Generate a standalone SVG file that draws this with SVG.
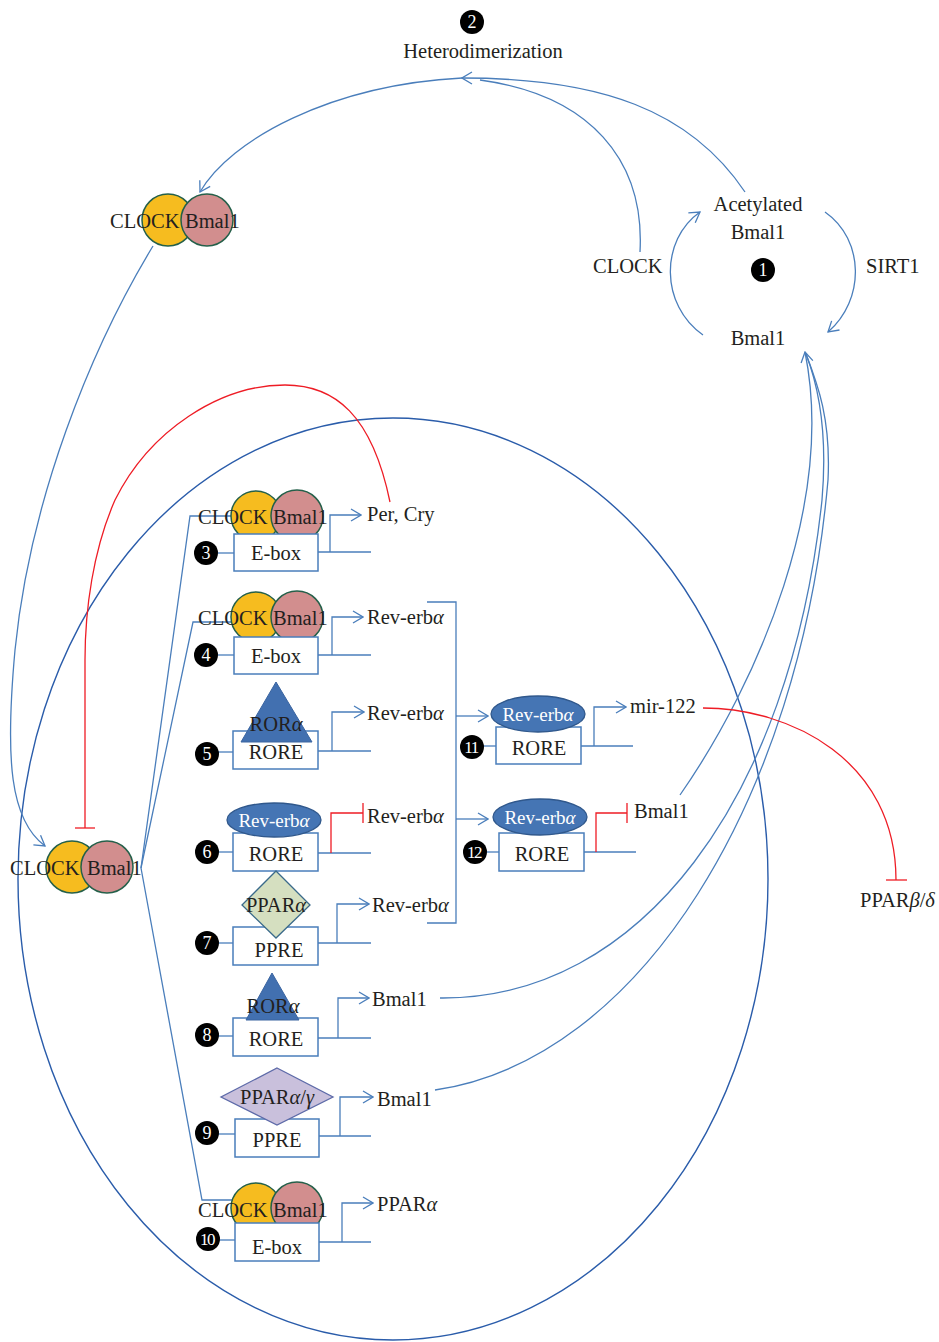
<svg xmlns="http://www.w3.org/2000/svg" width="939" height="1342" viewBox="0 0 939 1342">
<style>
.t{font-family:"Liberation Serif",serif;font-size:20.5px;fill:#231f20}
.m{text-anchor:middle}
.w{font-family:"Liberation Serif",serif;font-size:19px;fill:#ffffff;text-anchor:middle}
.n{font-family:"Liberation Serif",serif;font-size:18px;fill:#ffffff;text-anchor:middle}
.n2{font-family:"Liberation Serif",serif;font-size:17px;fill:#ffffff;text-anchor:middle;letter-spacing:-1.5px}
.b{fill:none;stroke:#4a7ebb;stroke-width:1.3}
.r{fill:none;stroke:#ee1c25;stroke-width:1.3}
.box{fill:#ffffff;stroke:#4a7ebb;stroke-width:1.5}
.y{fill:#f6bc1f;stroke:#25604a;stroke-width:1.5}
.p{fill:#d28e8e;stroke:#25604a;stroke-width:1.5}
.ov{fill:#4575b4;stroke:#30588c;stroke-width:1.3}
.tri{fill:#4270b0;stroke:#3a64a0;stroke-width:1}
.dot{fill:#000000}
</style>
<defs>
<marker id="arr" viewBox="0 0 12 14" refX="11" refY="7" markerWidth="12" markerHeight="14" markerUnits="userSpaceOnUse" orient="auto">
<path d="M1,1 L11,7 L1,13" fill="none" stroke="#4a7ebb" stroke-width="1.3"/>
</marker>
</defs>
<rect width="939" height="1342" fill="#ffffff"/>

<g id="cell">
<ellipse cx="393" cy="879" rx="375" ry="461" fill="none" stroke="#2a5caa" stroke-width="1.4"/>
</g>

<g id="connectors">
<path class="b" d="M745,192 C690,110 600,78 462,78" marker-end="url(#arr)"/>
<path class="b" d="M640,252 C645,160 590,95 480,80"/>
<path class="b" d="M462,78 C330,85 230,140 200,192" marker-end="url(#arr)"/>
<path class="b" d="M703,335 C660,305 660,240 700,212" marker-end="url(#arr)"/>
<path class="b" d="M825,212 C865,240 865,300 828,332" marker-end="url(#arr)"/>
<path class="b" d="M153,246 C90,350 30,500 15,650 C5,760 10,820 45,846" marker-end="url(#arr)"/>
<path class="r" d="M390,502 C372,415 335,385 285,385 C220,385 150,430 115,500 C93,550 85,610 85,660 L85,828"/>
<path class="r" d="M75,828 H95"/>
<path class="b" d="M141,868 L190,516 H234"/>
<path class="b" d="M141,868 L193,622 H234"/>
<path class="b" d="M141,868 L202,1200 H234"/>
<path class="b" d="M427,602 H456 V923 H427"/>
<path class="b" d="M456,716 H488" marker-end="url(#arr)"/>
<path class="b" d="M456,819 H488" marker-end="url(#arr)"/>
<path class="b" d="M680,795 C760,680 835,500 805,352" marker-end="url(#arr)"/>
<path class="b" d="M440,998 C640,1000 790,800 822,500 C828,430 818,385 806,354"/>
<path class="b" d="M435,1090 C640,1060 800,800 828,480 C831,420 818,385 806,354"/>
<path class="r" d="M703,708 C790,708 896,760 896,880"/>
<path class="r" d="M886,880 H907"/>
</g>

<g id="heterodimerization">
<circle class="dot" cx="472" cy="22" r="12"/>
<text class="n" x="472" y="28">2</text>
<text class="t m" x="483" y="58">Heterodimerization</text>
</g>

<g id="acetylation-cycle">
<text class="t m" x="758" y="211">Acetylated</text>
<text class="t m" x="758" y="239">Bmal1</text>
<circle class="dot" cx="763" cy="270" r="12"/>
<text class="n" x="763" y="276">1</text>
<text class="t m" x="758" y="345">Bmal1</text>
<text class="t" x="593" y="273">CLOCK</text>
<text class="t" x="866" y="273">SIRT1</text>
</g>

<g id="clock-bmal1-top">
<circle class="y" cx="168" cy="220" r="26"/>
<circle class="p" cx="207" cy="220" r="26"/>
<text class="t" x="110" y="228">CLOCK</text>
<text class="t" x="185" y="228">Bmal1</text>
</g>

<g id="clock-bmal1-left">
<circle class="y" cx="72" cy="867" r="26"/>
<circle class="p" cx="107" cy="867" r="26"/>
<text class="t" x="10" y="875">CLOCK</text>
<text class="t" x="87" y="875">Bmal1</text>
</g>

<g id="row3">
<circle class="y" cx="256" cy="516" r="25"/>
<circle class="p" cx="297" cy="516" r="26"/>
<text class="t" x="198" y="524">CLOCK</text>
<text class="t" x="273" y="524">Bmal1</text>
<rect class="box" x="234" y="534" width="84" height="37"/>
<text class="t m" x="276" y="560">E-box</text>
<path class="b" d="M218,553 H234"/>
<circle class="dot" cx="206" cy="553" r="12"/>
<text class="n" x="206" y="559">3</text>
<path class="b" d="M318,552 H371"/>
<path class="b" d="M330,552 V515 H361" marker-end="url(#arr)"/>
<text class="t" x="367" y="521">Per, Cry</text>
</g>

<g id="row4">
<circle class="y" cx="256" cy="617" r="25"/>
<circle class="p" cx="297" cy="617" r="26"/>
<text class="t" x="198" y="625">CLOCK</text>
<text class="t" x="273" y="625">Bmal1</text>
<rect class="box" x="234" y="637" width="84" height="37"/>
<text class="t m" x="276" y="663">E-box</text>
<path class="b" d="M218,655 H234"/>
<circle class="dot" cx="206" cy="655" r="12"/>
<text class="n" x="206" y="661">4</text>
<path class="b" d="M318,655 H371"/>
<path class="b" d="M332,655 V617 H363" marker-end="url(#arr)"/>
<text class="t" x="367" y="624">Rev-erb<tspan font-style="italic">α</tspan></text>
</g>

<g id="row5">
<rect class="box" x="233" y="731" width="85" height="38"/>
<polygon class="tri" points="276,682 312,742 241,742"/>
<text class="t m" x="276" y="731">ROR<tspan font-style="italic">α</tspan></text>
<text class="t m" x="276" y="759">RORE</text>
<path class="b" d="M218,752 H233"/>
<circle class="dot" cx="207" cy="754" r="12"/>
<text class="n" x="207" y="760">5</text>
<path class="b" d="M318,751 H371"/>
<path class="b" d="M332,751 V712 H364" marker-end="url(#arr)"/>
<text class="t" x="367" y="720">Rev-erb<tspan font-style="italic">α</tspan></text>
</g>

<g id="row6">
<rect class="box" x="233" y="833" width="85" height="38"/>
<ellipse class="ov" cx="274" cy="820" rx="47" ry="17"/>
<text class="w" x="274" y="827">Rev-erb<tspan font-style="italic">α</tspan></text>
<text class="t m" x="276" y="861">RORE</text>
<path class="b" d="M218,852 H233"/>
<circle class="dot" cx="207" cy="852" r="12"/>
<text class="n" x="207" y="858">6</text>
<path class="b" d="M318,853 H371"/>
<path class="r" d="M331,853 V813 H363 M363,803 V823"/>
<text class="t" x="367" y="823">Rev-erb<tspan font-style="italic">α</tspan></text>
</g>

<g id="row7">
<rect class="box" x="233" y="927" width="85" height="38"/>
<polygon points="276,871 310,905 276,938 242,905" fill="#d5dfc0" stroke="#3a6a8a" stroke-width="1.3"/>
<text class="t m" x="276" y="912">PPAR<tspan font-style="italic">α</tspan></text>
<text class="t m" x="279" y="957">PPRE</text>
<path class="b" d="M218,943 H233"/>
<circle class="dot" cx="207" cy="943" r="12"/>
<text class="n" x="207" y="949">7</text>
<path class="b" d="M318,943 H371"/>
<path class="b" d="M337,943 V904 H369" marker-end="url(#arr)"/>
<text class="t" x="372" y="912">Rev-erb<tspan font-style="italic">α</tspan></text>
</g>

<g id="row8">
<rect class="box" x="233" y="1018" width="85" height="38"/>
<polygon class="tri" points="272,973 299,1020 246,1020"/>
<text class="t m" x="273" y="1013">ROR<tspan font-style="italic">α</tspan></text>
<text class="t m" x="276" y="1046">RORE</text>
<path class="b" d="M218,1036 H233"/>
<circle class="dot" cx="207" cy="1035" r="12"/>
<text class="n" x="207" y="1041">8</text>
<path class="b" d="M318,1038 H371"/>
<path class="b" d="M338,1038 V998 H369" marker-end="url(#arr)"/>
<text class="t" x="372" y="1006">Bmal1</text>
</g>

<g id="row9">
<rect class="box" x="235" y="1119" width="84" height="38"/>
<polygon points="277,1068 333,1097 277,1125 221,1097" fill="#c9c0dc" stroke="#5d6aa8" stroke-width="1.3"/>
<text class="t m" x="277" y="1104">PPAR<tspan font-style="italic">α</tspan>/<tspan font-style="italic">γ</tspan></text>
<text class="t m" x="277" y="1147">PPRE</text>
<path class="b" d="M218,1134 H235"/>
<circle class="dot" cx="207" cy="1133" r="12"/>
<text class="n" x="207" y="1139">9</text>
<path class="b" d="M319,1136 H371"/>
<path class="b" d="M340,1136 V1097 H373" marker-end="url(#arr)"/>
<text class="t" x="377" y="1106">Bmal1</text>
</g>

<g id="row10">
<circle class="y" cx="256" cy="1208" r="25"/>
<circle class="p" cx="297" cy="1208" r="26"/>
<rect class="box" x="235" y="1223" width="84" height="38"/>
<text class="t" x="198" y="1217">CLOCK</text>
<text class="t" x="273" y="1217">Bmal1</text>
<text class="t m" x="277" y="1254">E-box</text>
<path class="b" d="M219,1240 H235"/>
<circle class="dot" cx="208" cy="1239" r="12"/>
<text class="n2" x="207" y="1245">10</text>
<path class="b" d="M319,1242 H371"/>
<path class="b" d="M342,1242 V1203 H373" marker-end="url(#arr)"/>
<text class="t" x="377" y="1211">PPAR<tspan font-style="italic">α</tspan></text>
</g>

<g id="row11">
<rect class="box" x="496" y="727" width="85" height="37"/>
<ellipse class="ov" cx="538" cy="714" rx="47" ry="18"/>
<text class="w" x="538" y="721">Rev-erb<tspan font-style="italic">α</tspan></text>
<text class="t m" x="539" y="755">RORE</text>
<path class="b" d="M484,746 H496"/>
<circle class="dot" cx="472" cy="747" r="12"/>
<text class="n2" x="471" y="753">11</text>
<path class="b" d="M581,746 H633"/>
<path class="b" d="M594,746 V707 H626" marker-end="url(#arr)"/>
<text class="t" x="630" y="713">mir-122</text>
</g>

<g id="row12">
<rect class="box" x="499" y="833" width="85" height="38"/>
<ellipse class="ov" cx="540" cy="817" rx="47" ry="18"/>
<text class="w" x="540" y="824">Rev-erb<tspan font-style="italic">α</tspan></text>
<text class="t m" x="542" y="861">RORE</text>
<path class="b" d="M487,852 H499"/>
<circle class="dot" cx="475" cy="852" r="12"/>
<text class="n2" x="474" y="858">12</text>
<path class="b" d="M584,852 H636"/>
<path class="r" d="M596,852 V813 H627 M627,803 V823"/>
<text class="t" x="634" y="818">Bmal1</text>
</g>

<g id="ppar-bd">
<text class="t" x="860" y="907">PPAR<tspan font-style="italic">β</tspan>/<tspan font-style="italic">δ</tspan></text>
</g>
</svg>
